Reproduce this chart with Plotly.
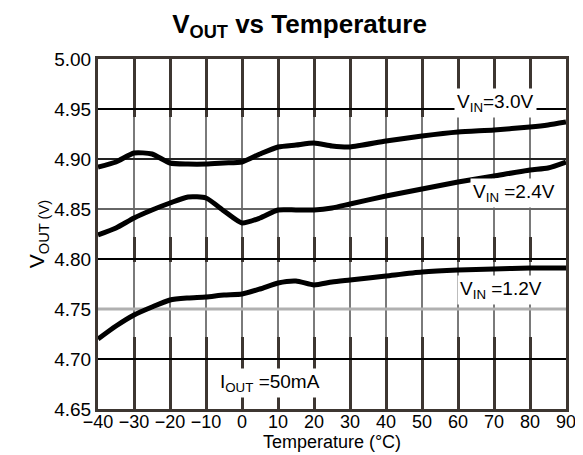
import plotly.graph_objects as go

temp = [-40, -35, -30, -25, -20, -15, -10, -5, 0, 5, 10, 15, 20, 25, 30, 40, 50, 60, 70, 80, 85, 90]
v_30 = [4.892, 4.897, 4.906, 4.905, 4.896, 4.895, 4.895, 4.896, 4.897, 4.905, 4.912, 4.914, 4.916, 4.913, 4.912, 4.918, 4.923, 4.927, 4.929, 4.932, 4.934, 4.937]
v_24 = [4.824, 4.831, 4.841, 4.849, 4.856, 4.862, 4.861, 4.848, 4.836, 4.841, 4.849, 4.849, 4.849, 4.851, 4.855, 4.863, 4.870, 4.877, 4.883, 4.889, 4.891, 4.897]
v_12 = [4.720, 4.733, 4.744, 4.752, 4.759, 4.761, 4.762, 4.764, 4.765, 4.770, 4.776, 4.778, 4.774, 4.777, 4.779, 4.783, 4.787, 4.789, 4.790, 4.791, 4.791, 4.791]

x_ticks = [-40, -30, -20, -10, 0, 10, 20, 30, 40, 50, 60, 70, 80, 90]
x_labels = ["\u221240", "\u221230", "\u221220", "\u221210", "0", "10", "20", "30", "40", "50", "60", "70", "80", "90"]
y_ticks = [4.65, 4.70, 4.75, 4.80, 4.85, 4.90, 4.95, 5.00]
y_labels = ["4.65", "4.70", "4.75", "4.80", "4.85", "4.90", "4.95", "5.00"]

labels = ["V<sub>IN</sub>=3.0V", "V<sub>IN</sub> =2.4V", "V<sub>IN</sub> =1.2V"]
label_x = [70.5, 75.5, 72]
label_y = [4.956, 4.866, 4.769]

# light-grid bands of the scanned chart
bands = [(4.822, 4.942), (4.722, 4.797)]

fig = go.Figure()
for ys in (v_30, v_24, v_12):
    fig.add_trace(go.Scatter(x=temp, y=ys, mode="lines", line=dict(color="black", width=5, shape="spline", smoothing=0.6),
                             showlegend=False, hoverinfo="skip"))

shapes = []
for (b0, b1) in bands:
    shapes.append(dict(type="rect", xref="x", yref="y", x0=x_ticks[0], x1=x_ticks[-1], y0=b0, y1=b1,
                       fillcolor="white", line=dict(width=0), layer="between"))
    for xv in x_ticks[1:-1]:
        shapes.append(dict(type="line", xref="x", yref="y", x0=xv, x1=xv, y0=b0, y1=b1,
                           line=dict(color="#7a7a7a", width=2), layer="between"))
# horizontal gridlines inside the bands
for yv, col, w in [(4.90, "#222222", 2), (4.85, "#666666", 2), (4.75, "#b0b0b0", 3)]:
    shapes.append(dict(type="line", xref="x", yref="y", x0=x_ticks[0], x1=x_ticks[-1], y0=yv, y1=yv,
                       line=dict(color=col, width=w), layer="between"))

for t, xv, yv in zip(labels, label_x, label_y):
    fig.add_annotation(x=xv, y=yv, text=t, showarrow=False, bgcolor="white",
                       font=dict(size=19, color="black"), borderpad=2)
fig.add_annotation(x=7.8, y=4.676, text="I<sub>OUT</sub> =50mA", showarrow=False, bgcolor="white",
                   font=dict(size=19, color="black"), borderpad=2)

fig.update_layout(
    width=583, height=455,
    margin=dict(l=90, r=25, t=51, b=54),
    paper_bgcolor="white", plot_bgcolor="white",
    font=dict(family="Liberation Sans, Arial, sans-serif", color="black"),
    title=dict(text="<b>V<sub>OUT</sub> vs Temperature</b>", x=0.5, xanchor="center", y=0.985, yanchor="top",
               font=dict(size=26, color="black")),
    shapes=shapes,
)
fig.update_xaxes(range=[-40, 90], tickvals=x_ticks, ticktext=x_labels, ticks="", showgrid=True,
                 gridcolor="#3d3631", gridwidth=3, zeroline=False, showline=True, linecolor="#3d3631",
                 linewidth=3, mirror=True, tickfont=dict(size=18), ticklabelstandoff=-6,
                 title=dict(text="Temperature (\u00b0C)", font=dict(size=18), standoff=0))
fig.update_yaxes(range=[4.65, 5.00], tickvals=y_ticks, ticktext=y_labels, ticks="", showgrid=True,
                 gridcolor="black", gridwidth=2, zeroline=False, showline=True, linecolor="#3d3631",
                 linewidth=3, mirror=True, tickfont=dict(size=19),
                 title=dict(text="V<sub>OUT (V)</sub>", font=dict(size=21), standoff=4))

fig.write_html("out.html")
